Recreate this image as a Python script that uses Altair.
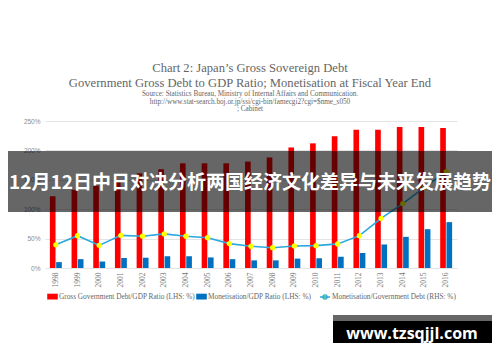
import altair as alt
import pandas as pd

years = [str(y) for y in range(1998, 2017)]
debt_gdp = [122, 133, 140, 147, 161, 168, 178, 178, 178, 181, 188, 205, 212, 224, 235, 235, 240, 240, 238]
monet_gdp = [10, 15, 11, 17, 17.5, 20, 20, 18, 15, 13, 13, 16, 16.5, 19, 25.5, 40, 53, 66, 78]
monet_debt = [7.9, 11.0, 7.7, 11.1, 10.8, 11.6, 10.8, 10.3, 8.3, 7.4, 6.9, 7.5, 7.6, 8.2, 11.0, 16.9, 21.9, 27.4, 32.8]

s_debt = "Gross Government Debt/GDP Ratio (LHS: %)"
s_monet = "Monetisation/GDP Ratio (LHS: %)"
s_ratio = "Monetisation/Government Debt (RHS: %)"

title1 = "Chart 2: Japan\u2019s Gross Sovereign Debt"
title2 = "Government Gross Debt to GDP Ratio; Monetisation at Fiscal Year End"
source_lines = [
    "Source: Statistics Bureau, Ministry of Internal Affairs and Communication.",
    "http://www.stat-search.boj.or.jp/ssi/cgi-bin/famecgi2?cgi=$nme_s050",
    "; Cabinet",
]
banner_text = "12月12日中日对决分析两国经济文化差异与未来发展趋势"
watermark_text = "www.tzsqjjl.com"

bars_df = pd.DataFrame(
    [{"year": y, "series": s_debt, "value": v} for y, v in zip(years, debt_gdp)]
    + [{"year": y, "series": s_monet, "value": v} for y, v in zip(years, monet_gdp)]
)
line_df = pd.DataFrame({"year": years, "ratio": monet_debt, "lname": [s_ratio] * len(years)})

SERIF = "Liberation Serif"
SANS = "Liberation Sans"
GREY = "#666666"

x_enc = alt.X(
    "year:N",
    sort=years,
    scale=alt.Scale(paddingInner=0.45, paddingOuter=0.225),
    axis=alt.Axis(
        title=None, labelAngle=-90, labelFont=SERIF, labelFontSize=7.5, labelColor="#777777",
        domain=False, ticks=False, labelPadding=4,
    ),
)

bars = alt.Chart(bars_df).mark_bar().encode(
    x=x_enc,
    xOffset=alt.XOffset("series:N", sort=[s_debt, s_monet], scale=alt.Scale(paddingInner=0.1)),
    y=alt.Y(
        "value:Q",
        scale=alt.Scale(domain=[0, 250]),
        axis=alt.Axis(
            title=None, values=[0, 50, 100, 150, 200, 250], labelExpr="datum.value + '%'",
            grid=True, gridColor="#e4e4e4", domain=False, ticks=False, labelPadding=5,
            labelFont=SANS, labelFontSize=6.5, labelColor="#8c8c8c",
        ),
    ),
    color=alt.Color(
        "series:N",
        scale=alt.Scale(domain=[s_debt, s_monet], range=["#FF0000", "#0070C0"]),
        legend=alt.Legend(
            orient="none", legendX=2, legendY=170, direction="horizontal", title=None,
            symbolType="M-1,-0.55H1V0.55H-1Z", symbolSize=112, symbolStrokeWidth=0,
            labelFont=SERIF, labelFontSize=7.3, labelColor=GREY, labelOffset=1, columnPadding=1,
            labelLimit=300,
        ),
    ),
)

y_right = alt.Y(
    "ratio:Q",
    scale=alt.Scale(domain=[0, 50]),
    axis=alt.Axis(
        orient="right", title=None, values=[0, 10, 20, 30, 40, 50], labelExpr="datum.value + '%'",
        grid=False, domain=False, ticks=False, labelPadding=6,
        labelFont=SANS, labelFontSize=6.5, labelColor="#8c8c8c",
    ),
)

line = alt.Chart(line_df).mark_line(strokeWidth=1.6).encode(
    x=alt.X("year:N", sort=years),
    y=y_right,
    stroke=alt.Stroke(
        "lname:N",
        scale=alt.Scale(domain=[s_ratio], range=["#2AA9DF"]),
        legend=alt.Legend(
            orient="none", legendX=274, legendY=170, title=None,
            symbolType="M-1,0H1M-0.42,0A0.42,0.42,0,1,0,0.42,0A0.42,0.42,0,1,0,-0.42,0",
            symbolSize=100, symbolStrokeWidth=1.3, symbolFillColor="#FFFF00",
            labelFont=SERIF, labelFontSize=7.3, labelColor=GREY, labelOffset=1, labelLimit=300,
        ),
    ),
)
points = alt.Chart(line_df).mark_point(filled=True, color="#FFFF00", size=28, opacity=1).encode(
    x=alt.X("year:N", sort=years),
    y=alt.Y("ratio:Q", axis=None),
)

right_layer = alt.layer(line, points)

one = alt.Data(values=[{}])


def text_mark(txt, xv, yv, size, font, color, weight="normal", align="center"):
    return alt.Chart(one).mark_text(
        font=font, fontSize=size, color=color, fontWeight=weight, align=align, baseline="middle"
    ).encode(x=alt.value(xv), y=alt.value(yv), text=alt.value(txt))


titles = [
    text_mark(title1, 205, -52.7, 12.6, SERIF, GREY),
    text_mark(title2, 205, -38.3, 12.6, SERIF, GREY),
    text_mark(source_lines[0], 205, -27, 7.2, SERIF, GREY),
    text_mark(source_lines[1], 205, -19.3, 7.2, SERIF, GREY),
    text_mark(source_lines[2], 205, -11.7, 7.2, SERIF, GREY),
]

banner_rect = alt.Chart(one).mark_rect(color="#000000", opacity=0.6).encode(
    x=alt.value(-37), x2=alt.value(447), y=alt.value(30), y2=alt.value(91)
)
banner = text_mark(banner_text, 205, 62, 19, "Noto Sans CJK SC", "#FFFFFF", weight="bold")

wm_top = alt.Chart(one).mark_rect(color="#666666").encode(
    x=alt.value(288), x2=alt.value(447), y=alt.value(194), y2=alt.value(200)
)
wm_box = alt.Chart(one).mark_rect(color="#000000").encode(
    x=alt.value(288), x2=alt.value(447), y=alt.value(200), y2=alt.value(222)
)
wm_text = text_mark(watermark_text, 367, 213, 16, "Open Sans", "#FFFFFF", weight="bold")

chart = alt.layer(
    bars, right_layer, *titles, banner_rect, banner, wm_top, wm_box, wm_text
).resolve_scale(
    y="independent"
).properties(
    width=412, height=147,
    autosize=alt.AutoSizeParams(type="none"),
    padding={"left": 37, "top": 113, "right": 35, "bottom": 86},
    background="#FFFFFF",
).configure_view(stroke=None)

chart.save("out.html", embed_options={"renderer": "svg", "actions": False})
